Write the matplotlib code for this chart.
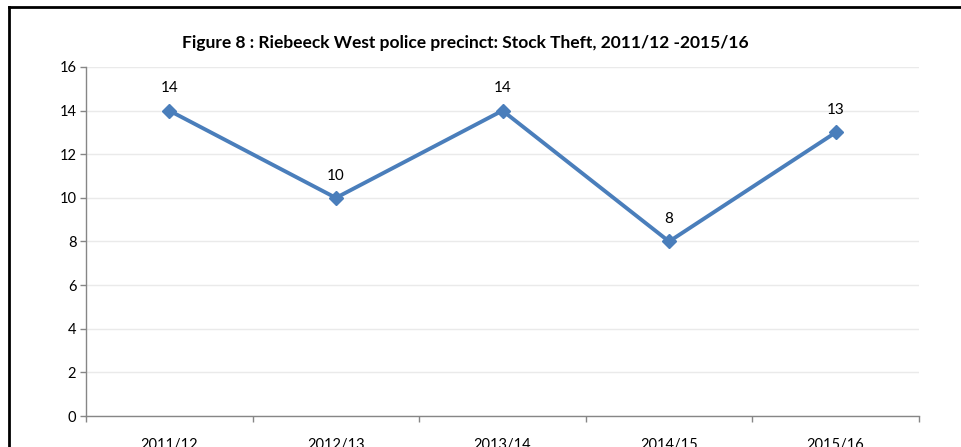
import matplotlib
matplotlib.use("Agg")
import matplotlib.pyplot as plt
from matplotlib.lines import Line2D
from matplotlib.ticker import FixedLocator, NullFormatter

# Stock theft counts per financial year
years = ["2011/12", "2012/13", "2013/14", "2014/15", "2015/16"]
stock_theft = [14, 10, 14, 8, 13]
y_ticks = [0, 2, 4, 6, 8, 10, 12, 14, 16]

plt.rcParams['font.family'] = ['Lato', 'DejaVu Sans']

W, H = 961, 447
fig = plt.figure(figsize=(W / 100, H / 100), dpi=100)
ax = fig.add_axes([86 / W, (H - 416) / H, (919 - 86) / W, (416 - 67) / H])

blue = '#4A7EBB'
x = list(range(len(years)))
ax.plot(x, stock_theft, color=blue, lw=2.8, marker='D', markersize=7,
        markerfacecolor=blue, markeredgecolor=blue, zorder=3)

for xi, v in zip(x, stock_theft):
    ax.annotate(str(v), (xi, v), xytext=(0, 11), textcoords='offset points',
                ha='center', va='bottom', fontsize=11, color='#000000')

ax.set_xlim(-0.5, len(years) - 0.5)
ax.set_ylim(0, 16)
ax.set_yticks(y_ticks)
ax.yaxis.grid(True, color='#EAEAEA', lw=1)
ax.set_axisbelow(True)

# category boundaries get the tick marks, names sit between them
ax.xaxis.set_major_locator(FixedLocator([i - 0.5 for i in range(len(years) + 1)]))
ax.xaxis.set_major_formatter(NullFormatter())
ax.xaxis.set_minor_locator(FixedLocator(x))
ax.set_xticklabels(years, minor=True)
ax.tick_params(axis='x', which='major', length=4, color='#868686', width=1)
ax.tick_params(axis='x', which='minor', length=0, pad=16, labelsize=10.5)
ax.tick_params(axis='y', length=4, color='#868686', width=1, labelsize=10.5, pad=3)

for side in ['top', 'right']:
    ax.spines[side].set_visible(False)
for side in ['left', 'bottom']:
    ax.spines[side].set_color('#868686')
    ax.spines[side].set_linewidth(1)

fig.text(465 / W, 1 - 43 / H,
         "Figure 8 : Riebeeck West police precinct: Stock Theft, 2011/12 -2015/16",
         ha='center', va='center', fontsize=12.5, fontweight='bold')

# frame around the chart (left and top edges)
fig.add_artist(Line2D([8.5 / W, 8.5 / W], [0, 1 - 6.5 / H], color='black', lw=2,
                      transform=fig.transFigure))
fig.add_artist(Line2D([8.5 / W, 1], [1 - 6.5 / H, 1 - 6.5 / H], color='black', lw=2,
                      transform=fig.transFigure))

fig.savefig("out.png", dpi=100)
